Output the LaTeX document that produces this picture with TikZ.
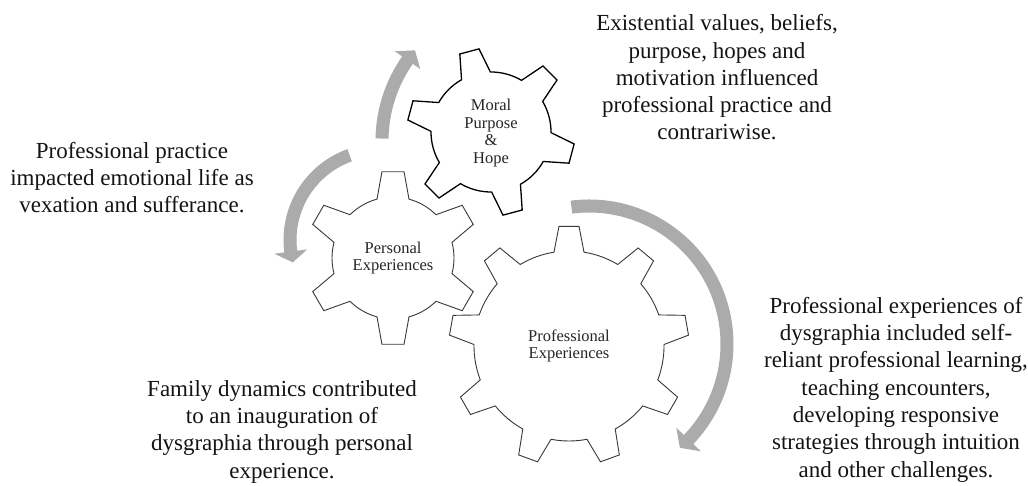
\documentclass[tikz,border=0pt]{standalone}
\usepackage{fontspec}
\setmainfont{Liberation Serif}
\tikzset{
  gearstyle/.style={draw=black!78, line width=0.9pt, fill=white, line join=miter},
  gearstyledark/.style={draw=black, line width=1.3pt, fill=white, line join=miter},
  arrowfill/.style={fill=black!33},
  bigtext/.style={font=\fontsize{23}{27.3}\selectfont, align=center, inner sep=0pt, anchor=base, text=black!92},
  geartext/.style={font=\fontsize{16.5}{17.5}\selectfont, align=center, inner sep=0pt, text=black!85},
}
% #1 cx, #2 cy, #3 teeth, #4 outer R, #5 root r, #6 offset, #7 tip half-angle, #8 base half-angle, #9 style
\newcommand\mygear[9]{%
  \path[#9,shift={(#1,#2)}] ({#6-#8}:#5)
    \foreach \i [evaluate=\i as \a using #6+(\i-1)*360/#3] in {1,...,#3}{
      -- ({\a-#8}:#5) -- ({\a-#7}:#4) -- ({\a+#7}:#4) -- ({\a+#8}:#5)
      arc[start angle={\a+#8}, end angle={\a+360/#3-#8}, radius=#5]
    } -- cycle;}
% #1 cx, #2 cy, #3 r, #4 start angle, #5 head base angle, #6 tip angle, #7 half shaft, #8 half head
\newcommand\myarc[8]{%
  \fill[arrowfill,shift={(#1,#2)}] ({#4}:{#3+#7})
    arc[start angle={#4}, end angle={#5}, radius={#3+#7}]
    -- ({#5}:{#3+#8}) -- ({#6}:{#3}) -- ({#5}:{#3-#8}) -- ({#5}:{#3-#7})
    arc[start angle={#5}, end angle={#4}, radius={#3-#7}] -- cycle;}
\begin{document}
\begin{tikzpicture}[x=1pt,y=1pt]
  \useasboundingbox (0,0) rectangle (1028,485);
  \fill[white] (0,0) rectangle (1028,485);
  % arrows
  \myarc{523}{344}{141}{179}{145}{140}{6.5}{15.5}
  \myarc{380}{245}{90}{109.7}{187.4}{194.4}{6.5}{16.5}
  \myarc{589}{141}{138}{97.3}{-43.8}{-48.8}{6.5}{17}
  % gears
  \mygear{393}{227}{6}{87}{61}{90}{7.3}{15.2}{gearstyle}
  \mygear{569}{139}{9}{120}{95}{90}{4.8}{9.1}{gearstyle}
  \mygear{491}{353}{6}{84}{60}{105}{6.8}{14.4}{gearstyledark}
  % gear labels
  \node[geartext] (personal) at (393,227) {Personal\\Experiences};
  \node[geartext] (moral) at (491,352) {Moral\\Purpose\\\&\\Hope};
  \node[geartext] (professional) at (569,139) {Professional\\Experiences};
  % descriptions (anchor=base is the last line's baseline)
  \node[bigtext] (existential) at (717,345) {Existential values, beliefs,\\purpose, hopes and\\motivation influenced\\professional practice and\\contrariwise.};
  \node[bigtext] (practice) at (132,272) {Professional practice\\impacted emotional life as\\vexation and sufferance.};
  \node[bigtext] (family) at (282,7) {Family dynamics contributed\\to an inauguration of\\dysgraphia through personal\\experience.};
  \node[bigtext] (profexp) at (896,8) {Professional experiences of\\dysgraphia included self-\\reliant professional learning,\\teaching encounters,\\developing responsive\\strategies through intuition\\and other challenges.};
\end{tikzpicture}
\end{document}
